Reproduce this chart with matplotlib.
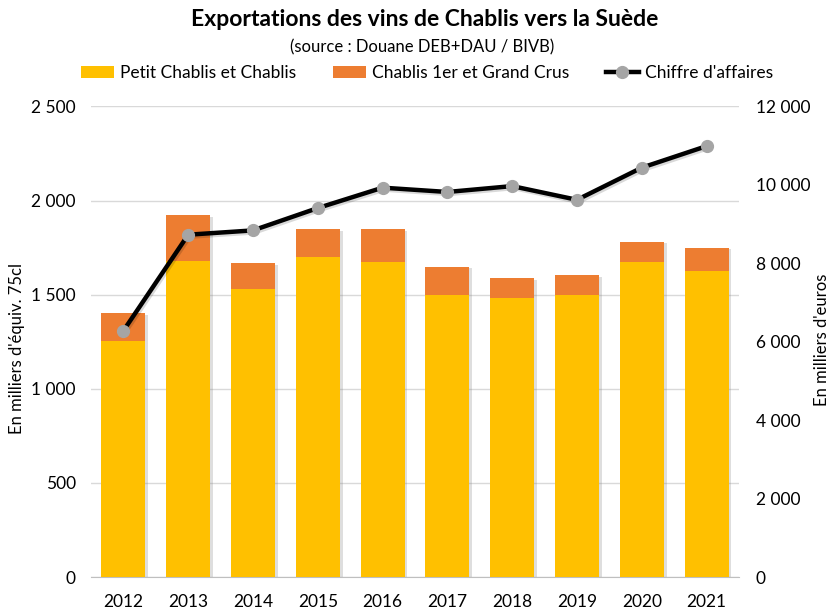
import matplotlib
matplotlib.use("Agg")
import matplotlib.pyplot as plt
import matplotlib.patheffects as pe
from matplotlib.ticker import FuncFormatter, MultipleLocator
import numpy as np

years = ["2012", "2013", "2014", "2015", "2016", "2017", "2018", "2019", "2020", "2021"]
petit_chablis = [1253, 1677, 1529, 1698, 1672, 1500, 1483, 1500, 1676, 1624]
premier_grand = [148, 244, 138, 149, 175, 149, 105, 103, 106, 126]
chiffre_affaires = [6280, 8730, 8840, 9410, 9930, 9820, 9970, 9620, 10440, 10990]

plt.rcParams['font.family'] = ['Lato', 'DejaVu Sans']

W, H = 832, 609
fig = plt.figure(figsize=(W / 100, H / 100), dpi=100)
ax = fig.add_axes([91 / W, (H - 577) / H, 648 / W, (577 - 106.5) / H])
ax2 = ax.twinx()

x = np.arange(len(years))
totals = np.array(petit_chablis) + np.array(premier_grand)

# soft shadow behind the full stacked bars
sh = ax.bar(x, totals, width=0.68, facecolor='none', edgecolor='none', zorder=2)
for p in sh:
    p.set_path_effects([pe.SimplePatchShadow(offset=(2, -1), shadow_rgbFace='#7F7F7F', alpha=0.25)])

b1 = ax.bar(x, petit_chablis, width=0.68, color='#FFC000', label='Petit Chablis et Chablis', zorder=3)
b2 = ax.bar(x, premier_grand, bottom=petit_chablis, width=0.68, color='#ED7D31',
            label='Chablis 1er et Grand Crus', zorder=3)

ax2.plot(x, chiffre_affaires, color='black', lw=3.2, alpha=0.15, zorder=4,
         transform=ax2.transData + matplotlib.transforms.ScaledTranslation(1.5 / 100, -2 / 100, fig.dpi_scale_trans))
l, = ax2.plot(x, chiffre_affaires, color='black', lw=3.2, marker='o', markersize=8.5,
              markerfacecolor='#A5A5A5', markeredgecolor='#A5A5A5', label="Chiffre d'affaires", zorder=5)

ax.set_xlim(-0.5, len(years) - 0.5)
ax.set_ylim(0, 2500)
ax2.set_ylim(0, 12000)
ax.yaxis.set_major_locator(MultipleLocator(500))
ax2.yaxis.set_major_locator(MultipleLocator(2000))

fmt = FuncFormatter(lambda v, p: f"{int(v):,}".replace(",", " "))
ax.yaxis.set_major_formatter(fmt)
ax2.yaxis.set_major_formatter(fmt)

ax.set_xticks(x)
ax.set_xticklabels(years)
ax.grid(axis='y', color='#D9D9D9', lw=1, zorder=0)
ax.set_axisbelow(True)

for a in (ax, ax2):
    for s in a.spines.values():
        s.set_visible(False)
    a.tick_params(length=0, labelsize=12.5, colors='#000000')
ax.spines['bottom'].set_visible(True)
ax.spines['bottom'].set_color('#BFBFBF')
ax.tick_params(axis='x', pad=12)
ax.tick_params(axis='y', pad=11)
ax2.tick_params(axis='y', pad=12)

fig.text(17 / W, 1 - 349 / H, "En milliers d'équiv. 75cl", rotation=90, ha='center', va='center', fontsize=12)
fig.text(822 / W, 1 - 340 / H, "En milliers d'euros", rotation=90, ha='center', va='center', fontsize=12)

fig.text(425 / W, 1 - 20 / H, "Exportations des vins de Chablis vers la Suède", ha='center', va='center',
         fontsize=16.5, fontweight='bold')
fig.text(422 / W, 1 - 47 / H, "(source : Douane DEB+DAU / BIVB)", ha='center', va='center', fontsize=12)

fig.legend(handles=[b1, b2, l], loc='center', bbox_to_anchor=(427 / W, 1 - 73 / H), ncol=3,
           frameon=False, fontsize=12.5, handlelength=1.9, handletextpad=0.35, columnspacing=2.1)

fig.savefig("out.png", dpi=100)
